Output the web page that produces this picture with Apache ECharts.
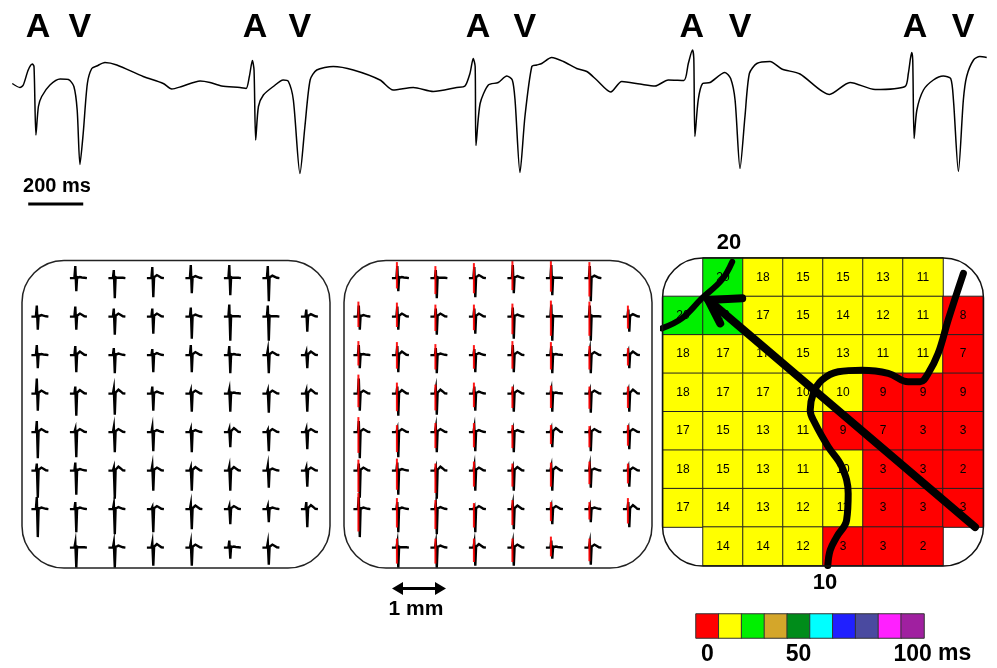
<!DOCTYPE html>
<html>
<head>
<meta charset="utf-8">
<script src="https://cdn.jsdelivr.net/npm/echarts@6/dist/echarts.min.js"></script>
<style>
html, body { margin: 0; padding: 0; background: #fff; }
#chart { width: 997px; height: 668px; }
</style>
</head>
<body>
<div id="chart"></div>
<script>
// surface recording (time in ms, amplitude in mV)
const traceT = [1,29,41,59,74,80,87,96,108,138,175,205,225,237,247,259,274,290,308,338,381,477,550,581,617,684,720,762,829,851,
  863,874,880,886,896,914,950,986,1005,1023,1047,1065,1084,1108,1168,1241,1338,1386,1459,1532,1617,1647,
  1665,1677,1684,1687,1702,1732,1768,1799,1819,1829,1847,1865,1890,1908,1926,1962,2005,2053,2090,2126,2177,2217,2283,2338,2386,2443,
  2459,2474,2479,2483,2495,2511,2538,2592,2613,2629,2647,2665,2681,2708,2756,2799,2865,2972,3047,3138,3247,
  3259,3271,3275,3280,3290,3314,3350,3386,3413,3423,3441,3459,3471,3496,3519,3544];
const traceMv = [0.03,-0.05,0,0.30,0.42,0.37,-1.00,-0.43,-0.23,0,0.12,0.11,-0.03,-0.50,-1.59,-0.96,0.03,0.33,0.38,0.45,0.40,0.17,0.03,-0.08,-0.03,0.08,0.05,-0.02,-0.05,-0.07,
  0.17,0.49,0.30,-1.10,-0.43,-0.20,-0.03,0.10,0.07,-0.30,-1.77,-0.83,0.10,0.30,0.37,0.30,0.10,-0.10,-0.05,-0.13,-0.05,-0.02,
  0.23,0.53,0.37,-1.21,-0.37,0,0.05,0.18,0.10,-0.30,-1.75,-0.63,0.37,0.40,0.43,0.55,0.47,0.33,0.27,0.10,-0.14,0.07,0.02,-0.02,0.10,0.09,
  0.43,0.70,0.53,-1.03,-0.30,0.03,0.05,0.25,0.13,-0.30,-1.67,-0.63,0.23,0.43,0.47,0.32,0.22,-0.19,0.05,-0.09,-0.03,
  0.23,0.65,0.50,-1.07,-0.50,-0.10,0.10,0.18,0.13,-0.30,-1.73,-0.30,0.17,0.50,0.57,0.55];
const aTimes = [95, 884, 1694, 2472, 3283];
const vTimes = [247, 1047, 1865, 2647, 3458];
const scaleBar = [59, 259]; // 200 ms

// 8x8 electrode array: spike height above / below baseline and late bump (px)
const egmUp = [
  [null, 12, 8, 11, 13, 13, 12, null],
  [11, 10, 8, 8, 9, 12, 11, 7],
  [10, 9, 7, 6, 10, 9, 5, 3],
  [15, 7, 5, 7, 3, 4, 3, 3],
  [11, 3, 5, 5, 3, 3, 2, 3],
  [7, 8, 3, 5, 3, 4, 5, 3],
  [12, 7, 5, 2, 5, 3, 3, 7],
  [null, 5, 5, 5, 5, 7, 5, null]
];
const egmDown = [
  [null, 13, 20, 19, 15, 17, 23, null],
  [13, 13, 18, 17, 22, 24, 24, 15],
  [13, 17, 18, 17, 17, 18, 18, 13],
  [17, 22, 21, 17, 18, 18, 19, 18],
  [26, 25, 20, 19, 20, 15, 19, 17],
  [27, 24, 28, 20, 20, 20, 17, 16],
  [28, 23, 25, 23, 20, 15, 13, 18],
  [null, 20, 20, 18, 18, 11, 17, null]
];
const egmBump = [
  [null, 1, 0.5, 3, 2, 0.5, 2.5, null],
  [1.5, 3, 3, 3, 2, 0.5, 0.5, 2.5],
  [1, 3.5, 1.5, 2, 3, 1, 3, 3.5],
  [3, 3.5, 4, 2, 3, 1, 3, 4],
  [3, 3, 3, 2, 2, 4, 3, 3],
  [3, 1.5, 4, 3, 3.5, 3.5, 2, 3],
  [1.5, 1.5, 2, 3, 3.5, 3, 1.5, 4],
  [null, 0.5, 2, 3.5, 3, 1, 3, null]
];

// activation times (ms)
const actTimes = [
  [null, 20, 18, 15, 15, 13, 11, null],
  [20, 20, 17, 15, 14, 12, 11, 8],
  [18, 17, 17, 15, 13, 11, 11, 7],
  [18, 17, 17, 10, 10, 9, 9, 9],
  [17, 15, 13, 11, 9, 7, 3, 3],
  [18, 15, 13, 11, 10, 3, 3, 2],
  [17, 14, 13, 12, 11, 3, 3, 3],
  [null, 14, 14, 12, 3, 3, 2, null]
];
const binStarts = [0, 10, 20, 30, 40, 50, 60, 70, 80, 90];
const binColors = ['#ff0000', '#ffff00', '#00f000', '#d4a62a', '#008c1a', '#00ffff', '#2020ff', '#4a4aa0', '#ff20ff', '#a020a0'];
const binLabels = ['0', '', '', '', '50', '', '', '', '', '100'];

// annotation lines on the map (cell units)
const isoLine = [[7.51,0.40],[7.13,1.61],[6.88,2.48],[6.63,3.00],[6.43,3.22],[6.13,3.22],[5.63,3.00],[4.97,2.92],[4.38,2.96],[3.97,3.18],[3.76,3.52],[3.68,3.96],[3.80,4.30],[4.13,4.91],[4.47,5.43],[4.63,6.13],[4.59,6.82],[4.34,7.26],[4.18,7.60],[4.12,8.00]];
const isoLine2 = [[-0.03,1.83],[0.47,1.57],[0.97,1.05],[1.47,0.57],[1.73,0.10]];
const arrowShaft = [[1.13,1.09],[7.80,7.00]];
const arrowHead = [[1.98,1.05],[1.13,1.09],[1.43,1.70]];

const FONT = 'Liberation Sans, Arial, sans-serif';
const CELL = 38.5;

function egmCoords(r, c) {
  const u = egmUp[r][c], d = egmDown[r][c], b = egmBump[r][c];
  const shape = [[-6,0],[-1.5,0],[-0.6,-u],[0.4,d],[1.2,-1],[2.5,-b*0.6],[4,-b],[6,-b*0.6],[8.5,-0.3],[11,0]];
  return shape.map(p => [c + p[0] / CELL, r + p[1] / CELL]);
}
const egmLines = [], redLines = [];
for (let r = 0; r < 8; r++) {
  for (let c = 0; c < 8; c++) {
    if (egmUp[r][c] == null) continue;
    egmLines.push({ coords: egmCoords(r, c) });
    redLines.push({ coords: [[c - 1 / CELL, r + (-egmUp[r][c] - 4) / CELL], [c - 1 / CELL, r + egmDown[r][c] * 0.8 / CELL]] });
  }
}
const heatData = [];
for (let r = 0; r < 8; r++) {
  for (let c = 0; c < 8; c++) {
    if (actTimes[r][c] != null) heatData.push([c, r, actTimes[r][c]]);
  }
}
const barData = binStarts.map((b, i) => [i, 0, b + 5]);

const hidden = { show: false };
function valAxis(grid, min, max, inverse) {
  return { type: 'value', gridIndex: grid, min: min, max: max, inverse: !!inverse, show: false };
}
const cats8 = ['0','1','2','3','4','5','6','7'];
const letterLabel = (txt) => ({
  show: true, position: 'inside', formatter: txt, color: '#000',
  textBorderWidth: 0, textBorderColor: 'transparent', opacity: 1,
  fontSize: 34, fontWeight: 'bold', fontFamily: FONT
});

const chart = echarts.init(document.getElementById('chart'));
chart.setOption({
  animation: false,
  textStyle: { fontFamily: FONT },
  grid: [
    { left: 12, top: 20, width: 975, height: 190 },
    { left: 22, top: 260, width: 308, height: 308 },
    { left: 344, top: 260, width: 308, height: 308 },
    { left: 663, top: 258, width: 320, height: 307.5 },
    { left: 663, top: 258, width: 320, height: 307.5 },
    { left: 696, top: 614, width: 228, height: 24 }
  ],
  xAxis: [
    valAxis(0, 0, 3545),
    valAxis(1, -0.4, 7.6),
    valAxis(2, -0.4, 7.6),
    { type: 'category', gridIndex: 3, data: cats8, show: false },
    valAxis(4, 0, 8),
    {
      type: 'category', gridIndex: 5, data: binStarts.map(String),
      axisLine: hidden, axisTick: hidden, splitLine: hidden,
      axisLabel: {
        interval: 0, margin: 5, color: '#000', fontSize: 23, fontWeight: 'bold', fontFamily: FONT,
        formatter: (v, i) => binLabels[i]
      }
    }
  ],
  yAxis: [
    valAxis(0, -2.5, 1.3),
    valAxis(1, -0.47, 7.53, true),
    valAxis(2, -0.47, 7.53, true),
    { type: 'category', gridIndex: 3, data: cats8, inverse: true, show: false },
    valAxis(4, 0, 8, true),
    { type: 'category', gridIndex: 5, data: ['bar'], show: false }
  ],
  visualMap: {
    type: 'piecewise', show: false, seriesIndex: [7, 12], dimension: 2,
    pieces: binStarts.map((b, i) => ({ gte: b, lt: b + 10, color: binColors[i] }))
  },
  series: [
    {
      type: 'line', xAxisIndex: 0, yAxisIndex: 0, symbol: 'none', smooth: 0.25,
      lineStyle: { color: '#000', width: 1.5 },
      data: traceT.map((t, i) => [t, traceMv[i]])
    },
    {
      type: 'line', xAxisIndex: 0, yAxisIndex: 0, symbol: 'none',
      lineStyle: { color: '#000', width: 3 },
      data: scaleBar.map(t => [t, -2.38])
    },
    {
      type: 'scatter', xAxisIndex: 0, yAxisIndex: 0, symbolSize: 1, clip: false,
      itemStyle: { color: '#fff', opacity: 1 },
      label: letterLabel('A'),
      data: aTimes.map(t => [t, 1.14])
    },
    {
      type: 'scatter', xAxisIndex: 0, yAxisIndex: 0, symbolSize: 1, clip: false,
      itemStyle: { color: '#fff', opacity: 1 },
      label: letterLabel('V'),
      data: vTimes.map(t => [t, 1.14])
    },
    {
      type: 'lines', coordinateSystem: 'cartesian2d', xAxisIndex: 1, yAxisIndex: 1, polyline: true,
      lineStyle: { color: '#000', width: 2.4, opacity: 1 }, data: egmLines
    },
    {
      type: 'lines', coordinateSystem: 'cartesian2d', xAxisIndex: 2, yAxisIndex: 2, polyline: true,
      lineStyle: { color: '#000', width: 2.4, opacity: 1 }, data: egmLines
    },
    {
      type: 'lines', coordinateSystem: 'cartesian2d', xAxisIndex: 2, yAxisIndex: 2, polyline: true, z: 3,
      lineStyle: { color: '#ff0000', width: 2, opacity: 0.9 }, data: redLines
    },
    {
      type: 'heatmap', xAxisIndex: 3, yAxisIndex: 3, data: heatData,
      itemStyle: { borderColor: '#222', borderWidth: 1 },
      label: { show: true, color: '#000', fontSize: 12, fontFamily: FONT }
    },
    {
      type: 'line', xAxisIndex: 4, yAxisIndex: 4, symbol: 'none', smooth: 0.4, clip: false, z: 5,
      lineStyle: { color: '#000', width: 7, cap: 'round' }, data: isoLine
    },
    {
      type: 'line', xAxisIndex: 4, yAxisIndex: 4, symbol: 'none', smooth: 0.4, clip: false, z: 5,
      lineStyle: { color: '#000', width: 6, cap: 'round' }, data: isoLine2
    },
    {
      type: 'line', xAxisIndex: 4, yAxisIndex: 4, symbol: 'none', clip: false, z: 5,
      lineStyle: { color: '#000', width: 8, cap: 'round' }, data: arrowShaft
    },
    {
      type: 'line', xAxisIndex: 4, yAxisIndex: 4, symbol: 'none', clip: false, z: 5,
      lineStyle: { color: '#000', width: 8, cap: 'round', join: 'round' }, data: arrowHead
    },
    {
      type: 'heatmap', xAxisIndex: 5, yAxisIndex: 5, data: barData,
      itemStyle: { borderColor: '#333', borderWidth: 1 }
    }
  ],
  graphic: [
    { type: 'rect', z: 10, shape: { x: 22, y: 260.5, width: 308, height: 307.5, r: 42 }, style: { fill: null, stroke: '#222', lineWidth: 1.5 } },
    { type: 'rect', z: 10, shape: { x: 344, y: 260.5, width: 308, height: 307.5, r: 42 }, style: { fill: null, stroke: '#222', lineWidth: 1.5 } },
    { type: 'rect', z: 10, shape: { x: 662.5, y: 258, width: 321, height: 308, r: 40 }, style: { fill: null, stroke: '#111', lineWidth: 1.5 } },
    { type: 'text', z: 10, x: 57, y: 186, style: { text: '200 ms', font: 'bold 20px ' + FONT, fill: '#000', align: 'center', verticalAlign: 'middle' } },
    { type: 'polyline', z: 10, shape: { points: [[399, 588.5], [440, 588.5]] }, style: { stroke: '#000', lineWidth: 3 } },
    { type: 'polygon', z: 10, shape: { points: [[392, 588.5], [403, 582], [403, 595]] }, style: { fill: '#000' } },
    { type: 'polygon', z: 10, shape: { points: [[446, 588.5], [435, 582], [435, 595]] }, style: { fill: '#000' } },
    { type: 'text', z: 10, x: 416, y: 609, style: { text: '1 mm', font: 'bold 21px ' + FONT, fill: '#000', align: 'center', verticalAlign: 'middle' } },
    { type: 'text', z: 10, x: 729, y: 243, style: { text: '20', font: 'bold 22px ' + FONT, fill: '#000', align: 'center', verticalAlign: 'middle' } },
    { type: 'text', z: 10, x: 825, y: 583, style: { text: '10', font: 'bold 22px ' + FONT, fill: '#000', align: 'center', verticalAlign: 'middle' } },
    { type: 'text', z: 10, x: 938, y: 654, style: { text: 'ms', font: 'bold 23px ' + FONT, fill: '#000', align: 'left', verticalAlign: 'middle' } }
  ]
});
</script>
</body>
</html>
